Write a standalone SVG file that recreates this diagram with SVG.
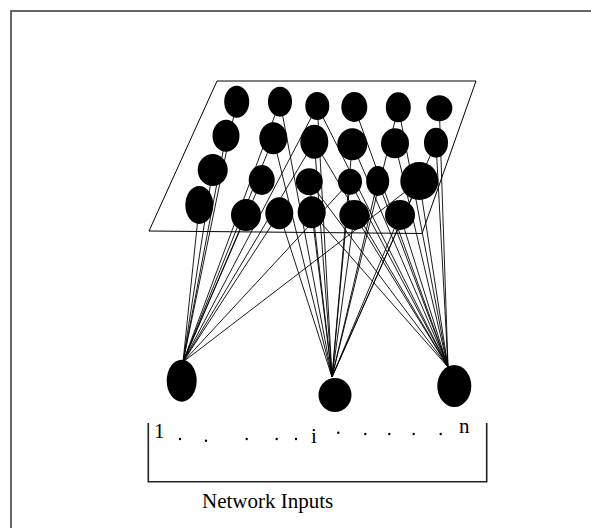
<svg xmlns="http://www.w3.org/2000/svg" width="591" height="528" viewBox="0 0 591 528">
<style>
.node{fill:#000}
.edge{stroke:#000;stroke-width:0.9;fill:none}
.plane{stroke:#000;stroke-width:1;fill:none}
.frame{stroke:#333;stroke-width:1.5;fill:none}
.bracket{stroke:#222;stroke-width:1.6;fill:none}
.lbl{font-family:"Liberation Serif","Times New Roman",serif;font-size:21px;fill:#000}
.dot{fill:#000}
</style>
<rect width="591" height="528" fill="#fff"/>
<path class="frame" d="M11,528 V11 H591"/>
<polygon id="plane" class="plane" points="217,81 476,81 422,233.5 149,231"/>
<g id="connectors">
<!-- left input -->
<line class="edge" x1="183" y1="362" x2="199.3" y2="205"/>
<line class="edge" x1="183" y1="362" x2="212.7" y2="170"/>
<line class="edge" x1="183" y1="362" x2="226" y2="135.7"/>
<line class="edge" x1="183" y1="362" x2="236.7" y2="101.7"/>
<line class="edge" x1="183" y1="362" x2="280" y2="101.7"/>
<line class="edge" x1="183" y1="362" x2="273.3" y2="138.3"/>
<line class="edge" x1="183" y1="362" x2="261.7" y2="180"/>
<line class="edge" x1="183" y1="362" x2="246" y2="215"/>
<line class="edge" x1="183" y1="362" x2="317.3" y2="106"/>
<line class="edge" x1="183" y1="362" x2="314.3" y2="141.7"/>
<line class="edge" x1="183" y1="362" x2="279.3" y2="213.3"/>
<line class="edge" x1="183" y1="362" x2="350" y2="181.7"/>
<line class="edge" x1="183" y1="362" x2="419.3" y2="181"/>
<!-- middle input -->
<line class="edge" x1="332" y1="377" x2="280" y2="101.7"/>
<line class="edge" x1="332" y1="377" x2="273.3" y2="138.3"/>
<line class="edge" x1="332" y1="377" x2="279.3" y2="213.3"/>
<line class="edge" x1="332" y1="377" x2="309.3" y2="181.7"/>
<line class="edge" x1="332" y1="377" x2="311.7" y2="212.3"/>
<line class="edge" x1="332" y1="377" x2="314.3" y2="141.7"/>
<line class="edge" x1="332" y1="377" x2="317.3" y2="106"/>
<line class="edge" x1="332" y1="377" x2="350" y2="181.7"/>
<line class="edge" x1="332" y1="377" x2="352.3" y2="144.3"/>
<line class="edge" x1="332" y1="377" x2="354.3" y2="215"/>
<line class="edge" x1="332" y1="377" x2="377.7" y2="181"/>
<line class="edge" x1="332" y1="377" x2="398.3" y2="107.3"/>
<line class="edge" x1="332" y1="377" x2="400" y2="215"/>
<line class="edge" x1="332" y1="377" x2="419.3" y2="181"/>
<line class="edge" x1="332" y1="377" x2="436" y2="142.7"/>
<!-- right input -->
<line class="edge" x1="448" y1="367" x2="311.7" y2="212.3"/>
<line class="edge" x1="448" y1="367" x2="309.3" y2="181.7"/>
<line class="edge" x1="448" y1="367" x2="314.3" y2="141.7"/>
<line class="edge" x1="448" y1="367" x2="354.3" y2="215"/>
<line class="edge" x1="448" y1="367" x2="350" y2="181.7"/>
<line class="edge" x1="448" y1="367" x2="317.3" y2="106"/>
<line class="edge" x1="448" y1="367" x2="352.3" y2="144.3"/>
<line class="edge" x1="448" y1="367" x2="354.3" y2="107"/>
<line class="edge" x1="448" y1="367" x2="377.7" y2="181"/>
<line class="edge" x1="448" y1="367" x2="400" y2="215"/>
<line class="edge" x1="448" y1="367" x2="395" y2="143.3"/>
<line class="edge" x1="448" y1="367" x2="398.3" y2="107.3"/>
<line class="edge" x1="448" y1="367" x2="419.3" y2="181"/>
<line class="edge" x1="448" y1="367" x2="436" y2="142.7"/>
<line class="edge" x1="448" y1="367" x2="439.3" y2="108.3"/>
</g>
<g id="hidden-layer">
<g id="a1"><ellipse class="node" cx="236.7" cy="101.7" rx="12.5" ry="16"/></g>
<g id="a2"><ellipse class="node" cx="280" cy="101.7" rx="12" ry="15"/></g>
<g id="a3"><ellipse class="node" cx="317.3" cy="106" rx="12" ry="14"/></g>
<g id="a4"><ellipse class="node" cx="354.3" cy="107" rx="13" ry="15"/></g>
<g id="a5"><ellipse class="node" cx="398.3" cy="107.3" rx="12.5" ry="15"/></g>
<g id="a6"><ellipse class="node" cx="439.3" cy="108.3" rx="13" ry="13"/></g>
<g id="b1"><ellipse class="node" cx="226" cy="135.7" rx="13.5" ry="16"/></g>
<g id="b2"><ellipse class="node" cx="273.3" cy="138.3" rx="14" ry="16"/></g>
<g id="b3"><ellipse class="node" cx="314.3" cy="141.7" rx="14" ry="17"/></g>
<g id="b4"><ellipse class="node" cx="352.3" cy="144.3" rx="15" ry="16"/></g>
<g id="b5"><ellipse class="node" cx="395" cy="143.3" rx="14" ry="15"/></g>
<g id="b6"><ellipse class="node" cx="436" cy="142.7" rx="12" ry="15"/></g>
<g id="c1"><ellipse class="node" cx="212.7" cy="170" rx="15" ry="16"/></g>
<g id="c2"><ellipse class="node" cx="261.7" cy="180" rx="13" ry="15"/></g>
<g id="c3"><ellipse class="node" cx="309.3" cy="181.7" rx="13.5" ry="13.5"/></g>
<g id="c4"><ellipse class="node" cx="350" cy="181.7" rx="12" ry="13"/></g>
<g id="c5"><ellipse class="node" cx="377.7" cy="181" rx="11.5" ry="15"/></g>
<g id="c6"><ellipse class="node" cx="419.3" cy="181" rx="19" ry="19"/></g>
<g id="d1"><ellipse class="node" cx="199.3" cy="205" rx="14" ry="19"/></g>
<g id="d2"><ellipse class="node" cx="246" cy="215" rx="15" ry="16"/></g>
<g id="d3"><ellipse class="node" cx="279.3" cy="213.3" rx="14" ry="16"/></g>
<g id="d4"><ellipse class="node" cx="311.7" cy="212.3" rx="14" ry="16"/></g>
<g id="d5"><ellipse class="node" cx="354.3" cy="215" rx="15" ry="15"/></g>
<g id="d6"><ellipse class="node" cx="400" cy="215" rx="15" ry="15"/></g>
</g>
<g id="input-1"><ellipse class="node" cx="181.7" cy="380.7" rx="15" ry="21"/></g>
<g id="input-i"><ellipse class="node" cx="335" cy="395" rx="16.5" ry="17"/></g>
<g id="input-n"><ellipse class="node" cx="454.3" cy="386" rx="17" ry="21"/></g>
<g id="inputs-bracket">
<path class="bracket" d="M148.3,423 V481.7 H486.7 V423"/>
<text class="lbl" x="154" y="438">1</text>
<text class="lbl" x="311" y="443">i</text>
<text class="lbl" x="459" y="432.5">n</text>
<circle class="dot" cx="180" cy="439" r="1.2"/>
<circle class="dot" cx="206" cy="440.7" r="1.2"/>
<circle class="dot" cx="246.7" cy="439" r="1.2"/>
<circle class="dot" cx="276.7" cy="439" r="1.2"/>
<circle class="dot" cx="296" cy="439" r="1.2"/>
<circle class="dot" cx="338.3" cy="432.7" r="1.2"/>
<circle class="dot" cx="365.3" cy="434" r="1.2"/>
<circle class="dot" cx="389.3" cy="434" r="1.2"/>
<circle class="dot" cx="413.7" cy="434" r="1.2"/>
<circle class="dot" cx="440.7" cy="434" r="1.2"/>
<text class="lbl" x="202" y="508">Network Inputs</text>
</g>
</svg>
